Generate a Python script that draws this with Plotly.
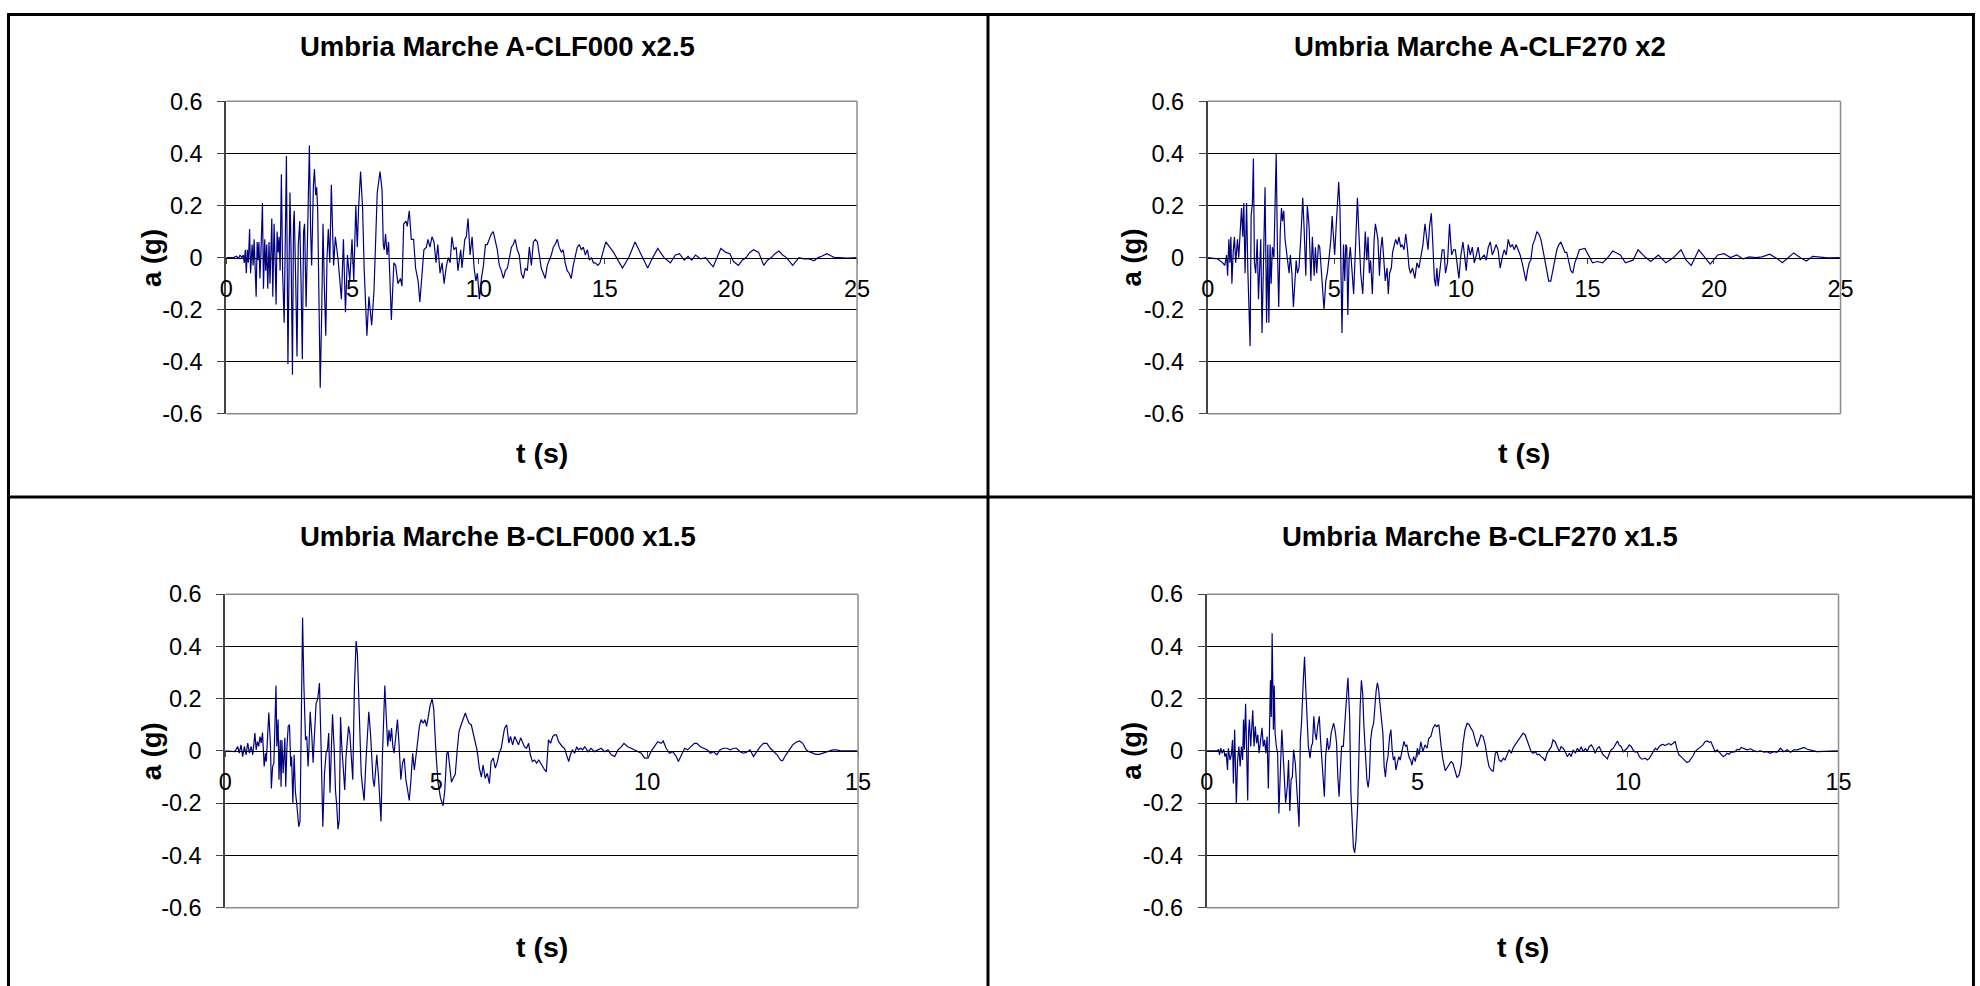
import plotly.graph_objects as go

# ---------------- data ----------------
titles = ["Umbria Marche A-CLF000 x2.5", "Umbria Marche A-CLF270 x2",
          "Umbria Marche B-CLF000 x1.5", "Umbria Marche B-CLF270 x1.5"]
y_ticks = [-0.6, -0.4, -0.2, 0, 0.2, 0.4, 0.6]
y_tick_labels = ["-0.6", "-0.4", "-0.2", "0", "0.2", "0.4", "0.6"]
x_ticks_a = [0, 5, 10, 15, 20, 25]
x_ticks_b = [0, 5, 10, 15]

t_a000 = [0, 0.28, 0.41, 0.48, 0.54, 0.61, 0.67, 0.71, 0.75, 0.79,
          0.83, 0.87, 0.92, 0.96, 1.02, 1.06, 1.10, 1.14, 1.18, 1.22,
          1.25, 1.29, 1.33, 1.37, 1.43, 1.47, 1.52, 1.56, 1.60, 1.64,
          1.69, 1.73, 1.80, 1.84, 1.89, 1.93, 1.97, 2.01, 2.05, 2.09,
          2.13, 2.18, 2.23, 2.29, 2.34, 2.38, 2.44, 2.48, 2.52, 2.56,
          2.62, 2.66, 2.69, 2.75, 2.80, 2.85, 2.91, 2.96, 3.01, 3.06,
          3.10, 3.16, 3.20, 3.24, 3.29, 3.34, 3.38, 3.45, 3.49, 3.54,
          3.58, 3.62, 3.67, 3.72, 3.78, 3.83, 3.88, 3.94, 3.99, 4.04,
          4.10, 4.16, 4.25, 4.32, 4.43, 4.56, 4.64, 4.72, 4.80, 4.89,
          4.98, 5.05, 5.13, 5.19, 5.24, 5.32, 5.40, 5.46, 5.57, 5.65,
          5.76, 5.85, 5.98, 6.09, 6.17, 6.22, 6.26, 6.31, 6.37, 6.43,
          6.54, 6.64, 6.71, 6.80, 6.90, 6.96, 7.03, 7.12, 7.17, 7.25,
          7.33, 7.42, 7.50, 7.60, 7.67, 7.75, 7.83, 7.93, 7.99, 8.07,
          8.15, 8.23, 8.31, 8.38, 8.47, 8.55, 8.63, 8.71, 8.79, 8.87,
          8.94, 9.02, 9.11, 9.18, 9.29, 9.34, 9.45, 9.51, 9.58, 9.66,
          9.74, 9.82, 9.89, 9.95, 10.03, 10.11, 10.19, 10.27, 10.34, 10.42,
          10.50, 10.58, 10.66, 10.74, 10.82, 10.90, 10.98, 11.06, 11.14, 11.22,
          11.30, 11.37, 11.45, 11.53, 11.61, 11.69, 11.77, 11.85, 11.93, 12.01,
          12.09, 12.17, 12.25, 12.33, 12.41, 12.48, 12.56, 12.64, 12.72, 12.80,
          12.88, 12.96, 13.03, 13.12, 13.19, 13.28, 13.35, 13.43, 13.51, 13.59,
          13.67, 13.75, 13.83, 13.91, 13.99, 14.07, 14.15, 14.23, 14.31, 14.39,
          14.47, 14.55, 14.62, 14.73, 14.81, 15.04, 15.35, 15.7, 15.95, 16.2,
          16.45, 16.7, 16.9, 17.1, 17.35, 17.6, 17.8, 17.96, 18.15, 18.3,
          18.45, 18.6, 18.8, 19.0, 19.2, 19.3, 19.45, 19.6, 19.8, 19.96,
          20.1, 20.3, 20.45, 20.6, 20.75, 20.9, 21.1, 21.3, 21.45, 21.6,
          21.75, 21.9, 22.05, 22.2, 22.45, 22.6, 22.7, 22.9, 23.1, 23.3,
          23.45, 23.6, 23.8, 24.0, 24.1, 24.3, 24.6, 25.0]
a_a000 = [0, 0, 0.005, -0.005, 0.01, 0, 0.01, -0.02, 0.03, -0.06,
          0.03, -0.02, 0.11, -0.06, 0.05, -0.03, 0.07, -0.05, -0.15, 0.06,
          -0.01, 0.06, -0.08, 0.02, 0.21, -0.12, 0.07, -0.05, 0.05, -0.12,
          0.06, -0.10, 0.15, -0.15, 0.13, 0.0, -0.18, 0.10, 0.02, 0.08,
          -0.05, 0.32, -0.06, -0.25, 0.20, 0.39, -0.41, 0.0, 0.25, 0.05,
          -0.45, 0.13, 0.18, -0.10, -0.38, 0.05, 0.14, -0.10, -0.39, 0.10,
          0.13, -0.19, 0.0, 0.20, 0.43, 0.10, -0.03, 0.28, 0.34, 0.24,
          0.27, 0.18, -0.15, -0.50, -0.20, 0.13, -0.10, -0.30, 0.0, 0.11,
          -0.02, 0.28, -0.03, 0.08, -0.01, -0.16, 0.07, -0.21, 0.01, -0.09,
          0.07, -0.09, 0.20, 0.04, 0.19, 0.33, 0.19, -0.04, -0.30, -0.15,
          -0.26, -0.13, 0.25, 0.33, 0.26, 0.05, 0.03, 0.09, 0.01, 0.06,
          -0.24, -0.02, -0.03, -0.10, -0.08, -0.11, 0.13, 0.14, 0.12, 0.18,
          0.07, 0.07, -0.04, -0.09, -0.17, -0.05, 0.03, 0.04, 0.07, 0.04,
          0.08, 0.06, -0.02, 0.05, -0.06, -0.02, -0.10, -0.04, 0.0, -0.02,
          0.08, 0.03, 0.04, -0.05, 0.03, -0.04, 0.07, 0.08, 0.15, 0.01,
          0.08, -0.04, -0.09, -0.06, -0.16, -0.08, -0.03, 0.05, 0.05, 0.07,
          0.09, 0.10, 0.07, 0.03, -0.03, -0.05, -0.08, -0.05, -0.04, 0.0,
          0.04, 0.05, 0.07, 0.03, 0.01, -0.06, -0.08, -0.04, -0.05, 0.04,
          -0.03, 0.06, 0.07, 0.06, 0.01, -0.04, -0.06, -0.08, -0.03, -0.01,
          0.01, 0.04, 0.05, 0.07, 0.04, 0.02, 0.03, -0.02, -0.05, -0.06,
          -0.08, -0.03, 0.0, 0.04, 0.05, 0.03, 0.04, 0.01, 0.03, -0.01,
          0.0, -0.02, -0.02, -0.03, -0.02, 0.06, 0.02, -0.04, 0.0, 0.06,
          0.01, -0.04, 0.0, 0.035, 0.0, -0.02, 0.01, 0.015, -0.01, 0.005,
          -0.01, 0.01, -0.005, 0.0, -0.025, -0.035, 0.0, 0.035, 0.02, 0.015,
          -0.015, -0.03, -0.01, 0.0, 0.02, 0.03, 0.02, -0.03, -0.01, 0.0,
          0.015, 0.025, 0.01, 0.0, -0.03, -0.01, 0.0, -0.005, -0.005, -0.012,
          0.0, 0.005, 0.015, 0.005, 0.0, 0.0, -0.002, 0.0]

t_a270 = [0, 0.38, 0.58, 0.67, 0.74, 0.78, 0.83, 0.87, 0.91, 0.95,
          1.00, 1.05, 1.10, 1.17, 1.22, 1.28, 1.33, 1.38, 1.42, 1.47,
          1.53, 1.58, 1.62, 1.67, 1.71, 1.76, 1.80, 1.84, 1.89, 1.95,
          2.00, 2.05, 2.09, 2.14, 2.21, 2.26, 2.32, 2.37, 2.41, 2.46,
          2.50, 2.55, 2.61, 2.64, 2.70, 2.75, 2.80, 2.86, 2.91, 2.95,
          3.00, 3.05, 3.10, 3.16, 3.21, 3.26, 3.32, 3.38, 3.43, 3.49,
          3.54, 3.60, 3.67, 3.75, 3.80, 3.87, 3.93, 4.00, 4.07, 4.13,
          4.20, 4.25, 4.30, 4.37, 4.42, 4.47, 4.53, 4.59, 4.66, 4.72,
          4.79, 4.86, 4.91, 4.96, 5.01, 5.07, 5.12, 5.17, 5.22, 5.26,
          5.30, 5.36, 5.41, 5.45, 5.49, 5.53, 5.58, 5.63, 5.70, 5.76,
          5.83, 5.91, 5.97, 6.04, 6.12, 6.18, 6.22, 6.28, 6.33, 6.38,
          6.43, 6.50, 6.57, 6.62, 6.67, 6.72, 6.78, 6.83, 6.89, 6.96,
          7.01, 7.08, 7.13, 7.18, 7.25, 7.30, 7.36, 7.42, 7.49, 7.55,
          7.62, 7.68, 7.75, 7.82, 7.88, 7.95, 8.01, 8.09, 8.18, 8.26,
          8.34, 8.42, 8.50, 8.58, 8.64, 8.70, 8.76, 8.83, 8.89, 8.95,
          9.00, 9.05, 9.10, 9.18, 9.26, 9.33, 9.39, 9.47, 9.55, 9.63,
          9.71, 9.78, 9.84, 9.92, 10.00, 10.08, 10.14, 10.21, 10.29, 10.37,
          10.45, 10.53, 10.61, 10.68, 10.76, 10.84, 10.92, 11.00, 11.08, 11.16,
          11.24, 11.32, 11.39, 11.47, 11.55, 11.63, 11.71, 11.79, 11.87, 11.95,
          12.03, 12.11, 12.18, 12.26, 12.34, 12.42, 12.50, 12.57, 12.63, 12.70,
          12.76, 12.84, 12.92, 13.00, 13.08, 13.16, 13.24, 13.32, 13.39, 13.47,
          13.55, 13.63, 13.71, 13.79, 13.87, 13.95, 14.03, 14.11, 14.18, 14.26,
          14.34, 14.42, 14.50, 14.58, 14.68, 14.9, 15.2, 15.4, 15.6, 15.8,
          16.0, 16.3, 16.5, 16.8, 17.0, 17.3, 17.5, 17.8, 18.1, 18.4,
          18.7, 18.9, 19.1, 19.4, 19.65, 19.85, 20.15, 20.4, 20.65, 20.9,
          21.15, 21.4, 21.65, 21.9, 22.2, 22.5, 22.7, 22.95, 23.15, 23.4,
          23.65, 23.9, 24.15, 24.5, 25.0]
a_a270 = [0, -0.005, -0.02, -0.03, 0.01, -0.07, 0.07, -0.02, 0.08, -0.10,
          0.02, 0.08, -0.02, 0.07, 0.0, 0.09, 0.19, 0.08, 0.21, -0.06,
          0.21, -0.05, -0.17, -0.34, 0.16, 0.21, 0.38, -0.02, -0.06, 0.07,
          -0.16, 0.03, 0.07, -0.29, 0.08, 0.27, -0.25, 0.05, -0.25, 0.05,
          -0.10, 0.04, 0.0, 0.17, 0.40, 0.03, -0.19, 0.10, 0.19, 0.14,
          0.18, 0.07, 0.03, 0.0, -0.06, 0.01, -0.06, -0.19, -0.12, -0.01,
          -0.06, -0.04, 0.07, 0.23, 0.12, -0.07, 0.20, 0.12, -0.09, 0.08,
          -0.07, 0.04, -0.06, 0.05, 0.04, -0.04, -0.11, -0.20, -0.09, -0.06,
          0.0, 0.07, 0.16, 0.10, 0.01, 0.12, 0.23, 0.29, 0.19, -0.05,
          -0.29, 0.05, -0.09, 0.05, 0.04, -0.22, -0.01, 0.04, -0.06, -0.14,
          0.03, 0.23, 0.09, -0.06, -0.14, 0.03, 0.10, -0.01, 0.08, -0.06,
          -0.01, -0.14, 0.07, 0.13, 0.10, 0.07, -0.07, 0.03, 0.08, 0.0,
          -0.09, -0.04, -0.14, -0.06, -0.04, 0.02, 0.04, 0.07, 0.05, 0.08,
          0.04, 0.05, 0.03, 0.09, 0.04, -0.04, -0.06, -0.04, -0.08, -0.02,
          -0.04, 0.0, 0.05, 0.13, 0.08, 0.03, 0.12, 0.17, 0.05, -0.08,
          -0.11, -0.04, -0.11, -0.04, 0.03, 0.03, -0.06, -0.02, 0.13, 0.01,
          0.03, 0.03, -0.02, -0.08, 0.01, 0.06, 0.01, -0.05, 0.05, 0.01,
          0.04, -0.02, 0.01, 0.04, -0.01, 0.0, 0.01, -0.01, 0.04, 0.06,
          0.01, 0.03, 0.05, 0.03, -0.04, 0.0, 0.03, 0.01, 0.07, 0.04,
          0.05, 0.03, 0.05, 0.03, 0.01, -0.02, -0.06, -0.09, -0.05, -0.02,
          -0.01, 0.05, 0.07, 0.10, 0.09, 0.07, 0.03, -0.01, -0.05, -0.09,
          -0.09, -0.05, 0.0, 0.03, 0.05, 0.06, 0.04, 0.02, 0.02, -0.01,
          -0.05, -0.06, -0.02, 0.0, 0.03, 0.035, -0.02, -0.015, -0.02, 0.0,
          0.025, 0.01, -0.02, -0.01, 0.03, 0.0, -0.015, 0.01, -0.02, 0.0,
          0.03, -0.01, -0.03, 0.03, 0.0, -0.025, 0.01, 0.015, 0.0, 0.01,
          -0.005, 0.003, 0.0, 0.003, 0.013, -0.004, -0.02, 0.003, 0.018, 0.0,
          -0.013, 0.005, 0.003, -0.001, 0.0]

t_b000 = [0, 0.21, 0.25, 0.29, 0.33, 0.37, 0.41, 0.45, 0.49, 0.53,
          0.57, 0.61, 0.65, 0.68, 0.70, 0.73, 0.76, 0.79, 0.82, 0.85,
          0.88, 0.92, 0.95, 0.97, 1.00, 1.03, 1.07, 1.09, 1.12, 1.15,
          1.20, 1.22, 1.25, 1.27, 1.30, 1.32, 1.34, 1.37, 1.41, 1.43,
          1.46, 1.49, 1.52, 1.55, 1.57, 1.60, 1.63, 1.66, 1.69, 1.74,
          1.77, 1.80, 1.83, 1.86, 1.90, 1.93, 1.96, 1.98, 2.01, 2.05,
          2.08, 2.11, 2.15, 2.19, 2.23, 2.27, 2.31, 2.35, 2.39, 2.42,
          2.45, 2.48, 2.51, 2.54, 2.58, 2.61, 2.64, 2.67, 2.70, 2.73,
          2.76, 2.80, 2.83, 2.86, 2.89, 2.92, 2.95, 2.99, 3.02, 3.06,
          3.10, 3.13, 3.16, 3.19, 3.22, 3.25, 3.29, 3.33, 3.36, 3.40,
          3.44, 3.47, 3.50, 3.53, 3.56, 3.59, 3.63, 3.66, 3.69, 3.72,
          3.75, 3.78, 3.81, 3.85, 3.88, 3.91, 3.94, 3.97, 4.00, 4.04,
          4.08, 4.12, 4.16, 4.20, 4.24, 4.28, 4.32, 4.36, 4.40, 4.44,
          4.48, 4.52, 4.56, 4.60, 4.64, 4.69, 4.73, 4.77, 4.81, 4.85,
          4.90, 4.94, 4.99, 5.04, 5.10, 5.16, 5.20, 5.25, 5.28, 5.32,
          5.36, 5.40, 5.45, 5.50, 5.54, 5.59, 5.64, 5.69, 5.73, 5.78,
          5.83, 5.87, 5.92, 5.97, 6.02, 6.07, 6.11, 6.16, 6.21, 6.26,
          6.30, 6.35, 6.40, 6.45, 6.49, 6.54, 6.59, 6.62, 6.67, 6.72,
          6.76, 6.81, 6.86, 6.90, 6.95, 7.00, 7.05, 7.09, 7.14, 7.19,
          7.23, 7.28, 7.33, 7.38, 7.43, 7.47, 7.52, 7.57, 7.61, 7.66,
          7.71, 7.76, 7.80, 7.85, 7.90, 7.95, 7.99, 8.04, 8.09, 8.14,
          8.18, 8.23, 8.28, 8.33, 8.37, 8.42, 8.47, 8.52, 8.60, 8.67,
          8.75, 8.83, 8.91, 8.99, 9.07, 9.15, 9.23, 9.31, 9.39, 9.45,
          9.54, 9.62, 9.70, 9.78, 9.86, 9.94, 10.02, 10.09, 10.17, 10.25,
          10.33, 10.38, 10.45, 10.53, 10.61, 10.69, 10.74, 10.81, 10.89, 10.96,
          11.04, 11.12, 11.18, 11.26, 11.34, 11.42, 11.50, 11.57, 11.65, 11.73,
          11.81, 11.89, 11.97, 12.05, 12.12, 12.20, 12.28, 12.36, 12.44, 12.52,
          12.60, 12.68, 12.76, 12.84, 12.92, 13.00, 13.08, 13.16, 13.21, 13.29,
          13.37, 13.45, 13.53, 13.61, 13.69, 13.77, 13.84, 13.92, 14.00, 14.08,
          14.16, 14.24, 14.32, 14.40, 14.48, 14.59, 14.75, 15.0]
a_b000 = [0, -0.003, 0.004, 0.017, -0.009, 0.023, -0.022, 0.017, -0.015, 0.03,
          -0.009, 0.017, -0.015, 0.023, 0.068, 0.004, 0.036, 0.017, 0.055, 0.03,
          0.07, -0.06, -0.009, -0.041, 0.042, 0.147, 0.017, -0.144, -0.06, -0.047,
          0.25, 0.017, 0.12, -0.11, 0.042, -0.137, 0.042, -0.086, 0.05, -0.137,
          0.017, 0.094, 0.10, -0.06, -0.022, -0.20, -0.015, -0.157, -0.20, -0.29,
          -0.27, 0.17, 0.51, 0.26, 0.042, 0.055, -0.06, 0.004, 0.15, 0.055,
          -0.045, 0.055, 0.18, 0.20, 0.26, 0.01, -0.29, -0.086, -0.003, 0.004,
          0.068, -0.16, 0.042, 0.14, 0.004, -0.15, -0.21, -0.30, -0.265, 0.13,
          0.017, -0.06, -0.15, -0.022, 0.042, 0.094, 0.068, -0.06, -0.11, 0.25,
          0.42, 0.37, 0.22, 0.017, -0.086, -0.137, -0.19, -0.047, 0.036, 0.15,
          0.068, -0.047, -0.11, -0.137, -0.073, -0.015, -0.098, -0.21, -0.27, -0.035,
          0.145, 0.25, 0.145, 0.017, 0.08, 0.036, 0.087, 0.017, -0.009, 0.055,
          0.12, 0.017, -0.11, -0.047, -0.028, -0.11, -0.15, -0.19, -0.11, -0.009,
          -0.073, -0.009, 0.05, 0.094, 0.12, 0.106, 0.12, 0.094, 0.13, 0.17,
          0.20, 0.16, 0.0, -0.12, -0.18, -0.21, -0.155, -0.01, -0.003, -0.065,
          -0.12, -0.105, -0.09, 0.01, 0.075, 0.10, 0.125, 0.145, 0.125, 0.105,
          0.10, 0.074, 0.035, 0.0, -0.065, -0.10, -0.054, -0.105, -0.086, -0.125,
          -0.041, -0.028, -0.066, -0.041, -0.009, 0.01, 0.06, 0.087, 0.10, 0.03,
          0.055, 0.023, 0.055, 0.042, 0.023, 0.05, 0.029, 0.016, 0.01, 0.029,
          -0.015, -0.041, -0.035, -0.047, -0.035, -0.047, -0.06, -0.073, -0.08, 0.042,
          0.029, 0.055, 0.061, 0.061, 0.035, 0.023, 0.016, 0.01, -0.015, -0.041,
          -0.015, 0.004, -0.009, 0.016, 0.004, 0.01, 0.004, 0.016, -0.003, 0.01,
          -0.003, 0.004, 0.01, -0.003, 0.004, -0.015, -0.022, 0.004, 0.016, 0.029,
          0.016, 0.01, 0.004, -0.003, -0.009, -0.028, -0.028, -0.003, 0.016, 0.035,
          0.029, 0.038, 0.01, -0.009, -0.003, -0.022, -0.041, -0.015, 0.01, 0.004,
          0.016, 0.029, 0.029, 0.016, 0.01, 0.004, -0.009, -0.003, -0.015, 0.004,
          0.01, 0.01, 0.004, 0.01, 0.01, -0.003, -0.009, -0.005, 0.004, -0.022,
          -0.003, 0.016, 0.029, 0.029, 0.01, -0.003, -0.015, -0.035, -0.038, -0.015,
          0.004, 0.023, 0.033, 0.038, 0.029, 0.004, -0.003, -0.009, -0.013, -0.013,
          -0.009, -0.003, 0.001, 0.004, 0.004, 0.0, 0.0, 0.0]

t_b270 = [0, 0.24, 0.28, 0.30, 0.33, 0.36, 0.40, 0.43, 0.46, 0.49,
          0.51, 0.55, 0.58, 0.61, 0.63, 0.66, 0.70, 0.73, 0.76, 0.79,
          0.82, 0.85, 0.87, 0.89, 0.92, 0.94, 0.97, 0.99, 1.01, 1.04,
          1.06, 1.09, 1.12, 1.15, 1.18, 1.21, 1.24, 1.27, 1.31, 1.34,
          1.37, 1.40, 1.43, 1.46, 1.49, 1.51, 1.53, 1.55, 1.57, 1.58,
          1.60, 1.62, 1.65, 1.68, 1.71, 1.74, 1.78, 1.81, 1.84, 1.87,
          1.91, 1.94, 1.97, 2.00, 2.03, 2.06, 2.10, 2.13, 2.16, 2.19,
          2.22, 2.25, 2.29, 2.32, 2.35, 2.38, 2.41, 2.45, 2.48, 2.51,
          2.54, 2.57, 2.60, 2.63, 2.67, 2.70, 2.73, 2.76, 2.79, 2.82,
          2.86, 2.89, 2.92, 2.95, 2.98, 3.01, 3.05, 3.08, 3.11, 3.14,
          3.17, 3.20, 3.24, 3.27, 3.30, 3.33, 3.35, 3.39, 3.42, 3.45,
          3.48, 3.51, 3.54, 3.58, 3.61, 3.64, 3.67, 3.70, 3.73, 3.77,
          3.80, 3.83, 3.86, 3.89, 3.92, 3.96, 3.99, 4.02, 4.05, 4.08,
          4.11, 4.15, 4.18, 4.21, 4.24, 4.27, 4.30, 4.34, 4.37, 4.40,
          4.43, 4.46, 4.49, 4.53, 4.56, 4.59, 4.62, 4.65, 4.68, 4.72,
          4.75, 4.78, 4.81, 4.84, 4.87, 4.91, 4.95, 5.00, 5.04, 5.08,
          5.13, 5.18, 5.23, 5.27, 5.32, 5.37, 5.42, 5.46, 5.51, 5.56,
          5.60, 5.66, 5.70, 5.75, 5.80, 5.84, 5.89, 5.94, 5.99, 6.04,
          6.08, 6.13, 6.18, 6.23, 6.27, 6.32, 6.37, 6.42, 6.46, 6.51,
          6.56, 6.61, 6.66, 6.70, 6.75, 6.80, 6.85, 6.89, 6.94, 6.99,
          7.04, 7.08, 7.13, 7.18, 7.23, 7.27, 7.32, 7.37, 7.42, 7.46,
          7.51, 7.56, 7.61, 7.66, 7.70, 7.75, 7.80, 7.85, 7.89, 7.94,
          7.99, 8.03, 8.08, 8.13, 8.18, 8.22, 8.27, 8.32, 8.37, 8.41,
          8.46, 8.51, 8.56, 8.61, 8.65, 8.70, 8.75, 8.80, 8.84, 8.89,
          8.94, 8.99, 9.03, 9.08, 9.13, 9.18, 9.22, 9.27, 9.32, 9.37,
          9.41, 9.46, 9.51, 9.56, 9.60, 9.65, 9.70, 9.75, 9.79, 9.84,
          9.89, 9.94, 9.98, 10.03, 10.08, 10.12, 10.17, 10.22, 10.27, 10.32,
          10.36, 10.41, 10.46, 10.51, 10.55, 10.60, 10.65, 10.69, 10.74, 10.79,
          10.84, 10.88, 10.93, 10.98, 11.02, 11.07, 11.12, 11.17, 11.21, 11.26,
          11.31, 11.36, 11.40, 11.45, 11.50, 11.55, 11.59, 11.64, 11.69, 11.74,
          11.78, 11.83, 11.88, 11.93, 11.97, 12.02, 12.07, 12.12, 12.16, 12.21,
          12.26, 12.31, 12.35, 12.40, 12.45, 12.50, 12.54, 12.59, 12.64, 12.69,
          12.75, 12.83, 12.91, 12.99, 13.07, 13.15, 13.23, 13.30, 13.38, 13.46,
          13.54, 13.62, 13.70, 13.78, 13.86, 13.94, 14.02, 14.10, 14.18, 14.26,
          14.34, 14.41, 14.49, 14.65, 14.81, 15.0]
a_b270 = [0, 0, 0.004, -0.015, 0.01, -0.009, 0.006, -0.022, -0.009, -0.073,
          0.01, -0.035, -0.015, 0.042, -0.125, 0.081, -0.20, -0.035, 0.017, -0.06,
          0.017, -0.035, 0.12, 0.004, 0.18, -0.009, -0.19, 0.068, 0.12, 0.017,
          0.094, 0.155, 0.017, 0.094, 0.029, 0.062, -0.009, 0.042, 0.088, 0.017,
          0.042, -0.009, 0.055, -0.144, 0.18, 0.27, 0.13, 0.45, 0.22, 0.081,
          0.25, 0.068, 0.017, -0.009, -0.24, -0.073, 0.081, -0.009, -0.137, -0.20,
          -0.137, -0.035, -0.23, -0.11, -0.10, 0.004, -0.047, -0.125, -0.19, -0.29,
          0.042, 0.113, 0.27, 0.36, 0.235, 0.132, 0.017, -0.028, 0.017, 0.03,
          0.132, 0.068, 0.042, 0.094, 0.132, 0.042, -0.047, -0.11, -0.175, -0.022,
          0.049, 0.004, 0.017, 0.068, 0.094, 0.106, 0.074, 0.03, -0.10, -0.175,
          -0.073, 0.017, 0.017, 0.106, 0.17, 0.235, 0.28, 0.132, -0.16, -0.25,
          -0.37, -0.39, -0.345, -0.215, 0.004, 0.17, 0.27, 0.22, 0.094, -0.022,
          -0.11, -0.14, -0.10, 0.042, 0.081, 0.106, 0.18, 0.23, 0.26, 0.235,
          0.18, 0.119, 0.068, -0.06, -0.10, -0.047, -0.022, 0.055, 0.081, 0.004,
          -0.035, -0.022, -0.073, -0.041, -0.022, -0.035, -0.009, 0.017, 0.036, 0.017,
          0.023, -0.009, -0.028, -0.035, -0.055, -0.022, -0.041, 0.01, -0.015, 0.035,
          -0.003, 0.023, 0.01, 0.048, 0.055, 0.087, 0.10, 0.093, 0.10, 0.023,
          -0.028, -0.076, -0.066, -0.054, -0.041, -0.047, -0.079, -0.102, -0.092, -0.054,
          0.023, 0.08, 0.106, 0.10, 0.087, 0.074, 0.042, 0.016, 0.035, 0.061,
          0.055, 0.023, -0.028, -0.06, -0.073, -0.079, -0.009, -0.003, -0.035, -0.041,
          -0.028, -0.035, -0.015, 0.004, -0.009, 0.01, 0.023, 0.035, 0.048, 0.061,
          0.068, 0.061, 0.035, 0.01, -0.003, -0.009, -0.003, -0.015, -0.013, -0.022,
          -0.028, -0.038, -0.009, 0.004, 0.016, 0.042, 0.035, 0.016, -0.003, 0.016,
          0.01, -0.003, -0.022, -0.009, -0.022, 0.004, -0.009, 0.01, -0.003, 0.016,
          -0.003, 0.01, -0.003, 0.016, 0.023, 0.01, -0.009, 0.01, 0.016, -0.003,
          -0.015, -0.022, -0.031, -0.009, 0.004, 0.01, 0.023, 0.038, 0.023, 0.016,
          -0.003, 0.004, 0.01, 0.023, 0.016, 0.004, -0.005, -0.003, -0.022, -0.031,
          -0.031, -0.028, -0.035, -0.028, -0.015, -0.003, 0.01, 0.004, 0.016, 0.023,
          0.025, 0.02, 0.025, 0.028, 0.023, 0.029, 0.036, 0.004, -0.015, -0.022,
          -0.031, -0.038, -0.045, -0.041, -0.031, -0.018, -0.003, 0.004, 0.01, 0.016,
          0.023, 0.035, 0.038, 0.033, 0.035, 0.016, -0.003, 0.004, -0.003, -0.015,
          -0.022, -0.018, -0.009, -0.013, -0.005, -0.005, -0.003, 0.006, 0.004, 0.013,
          0.01, 0.004, 0.008, 0.0, -0.003, 0.0, -0.005, -0.003, -0.009, -0.003,
          -0.006, 0.01, -0.003, 0.004, -0.005, 0.004, 0.004, 0.01, 0.013, 0.006,
          0.004, 0.0, -0.003, -0.003, -0.001, 0.0]

series_t = [t_a000, t_a270, t_b000, t_b270]
series_a = [a_a000, a_a270, a_b000, a_b270]
x_ticks = [x_ticks_a, x_ticks_a, x_ticks_b, x_ticks_b]

# ---------------- layout geometry ----------------
# Target positions are pixels of the final 1980x986 picture.  The capture
# maps figure pixel f to picture pixel OX + SX*f (and OY + SY*f vertically),
# so targets are mapped back to figure pixels before use.
SX, OX = 0.9905, 5.5
SY, OY = 0.9725, 12.8
W, H = 1995, 1002


def fx(p):
    return (p - OX) / SX


def fy(p):
    return (p - OY) / SY


def px(p):
    return min(max(fx(p) / W, 0.0), 1.0)


def py(p):
    return min(max(1 - fy(p) / H, 0.0), 1.0)


plot_boxes = [(225, 856, 101, 413), (1207, 1840, 101, 413),
              (224, 857, 593, 906), (1206, 1838, 593, 906)]
cell_centers_x = [496.5, 1479, 496.5, 1479]
title_y = [46, 46, 535, 535]
ytitle_x = [150, 1131, 150, 1131]
xtitle_y = [452, 452, 945, 945]

FONT = "Liberation Sans, Arial, sans-serif"
LINE_COLOR = "#000080"

fig = go.Figure()
layout = dict(width=W, height=H, margin=dict(l=0, r=0, t=0, b=0),
              paper_bgcolor="white", plot_bgcolor="white", showlegend=False,
              font=dict(family=FONT, color="black"))
annotations, shapes = [], []

for i in range(4):
    n = i + 1
    xs = "" if n == 1 else str(n)
    x0, x1, y0, y1 = plot_boxes[i]
    xd = [px(x0), px(x1)]
    yd = [py(y1), py(y0)]
    zero_pos = (yd[0] + yd[1]) / 2
    fig.add_trace(go.Scatter(x=series_t[i], y=series_a[i], mode="lines",
                             line=dict(color=LINE_COLOR, width=1.2),
                             xaxis="x" + xs, yaxis="y" + xs, hoverinfo="skip"))
    layout["xaxis" + xs] = dict(
        domain=xd, anchor="free", position=zero_pos, range=[0, x_ticks[i][-1]],
        tickmode="array", tickvals=x_ticks[i], ticktext=[str(v) for v in x_ticks[i]],
        showline=True, linecolor="black", linewidth=1, ticks="outside",
        ticklen=5, tickcolor="#444", showgrid=False, zeroline=False,
        tickfont=dict(size=23.5, family=FONT), ticklabelstandoff=5, fixedrange=True)
    layout["yaxis" + xs] = dict(
        domain=yd, anchor="x" + xs, range=[-0.6, 0.6],
        tickmode="array", tickvals=y_ticks, ticktext=y_tick_labels,
        showline=True, linecolor="#444", linewidth=2, ticks="outside", ticklen=7,
        tickcolor="#444", showgrid=False, zeroline=False,
        minor=dict(tickvals=[-0.4, -0.2, 0.2, 0.4], showgrid=True,
                   gridcolor="black", gridwidth=1, ticks=""),
        tickfont=dict(size=23.5, family=FONT), ticklabelstandoff=10, fixedrange=True)
    # gray plot-area frame (top, right, bottom)
    for (ax0, ay0, ax1, ay1) in [(0, 1, 1, 1), (1, 0, 1, 1), (0, 0, 1, 0)]:
        shapes.append(dict(type="line", xref="x" + xs + " domain", yref="y" + xs + " domain",
                           x0=ax0, y0=ay0, x1=ax1, y1=ay1,
                           line=dict(color="#8c8c8c", width=1.5), layer="above"))
    annotations.append(dict(text="<b>" + titles[i] + "</b>", xref="paper", yref="paper",
                            x=px(cell_centers_x[i]), y=py(title_y[i]),
                            xanchor="center", yanchor="middle", showarrow=False,
                            font=dict(size=27.5, family=FONT)))
    annotations.append(dict(text="<b>a (g)</b>", xref="paper", yref="paper",
                            x=px(ytitle_x[i]), y=zero_pos, textangle=-90,
                            xanchor="center", yanchor="middle", showarrow=False,
                            font=dict(size=27.5, family=FONT)))
    annotations.append(dict(text="<b>t (s)</b>", xref="paper", yref="paper",
                            x=px((x0 + x1) / 2), y=py(xtitle_y[i]),
                            xanchor="center", yanchor="middle", showarrow=False,
                            font=dict(size=28.5, family=FONT)))

# table-cell borders (lines falling outside the figure hug its edge)
border_x = [min(max(fx(p), 1.5), W - 1.5) / W for p in [7, 987, 1973]]
border_y = [1 - min(max(fy(p), 1.5), H - 1.5) / H for p in [6, 496]]
for xb in border_x:
    shapes.append(dict(type="line", xref="paper", yref="paper", x0=xb, x1=xb,
                       y0=0, y1=1, line=dict(color="black", width=3)))
for yb in border_y:
    shapes.append(dict(type="line", xref="paper", yref="paper", x0=border_x[0],
                       x1=border_x[-1], y0=yb, y1=yb, line=dict(color="black", width=3)))

layout["annotations"] = annotations
layout["shapes"] = shapes
fig.update_layout(**layout)
fig.write_html("out.html")
